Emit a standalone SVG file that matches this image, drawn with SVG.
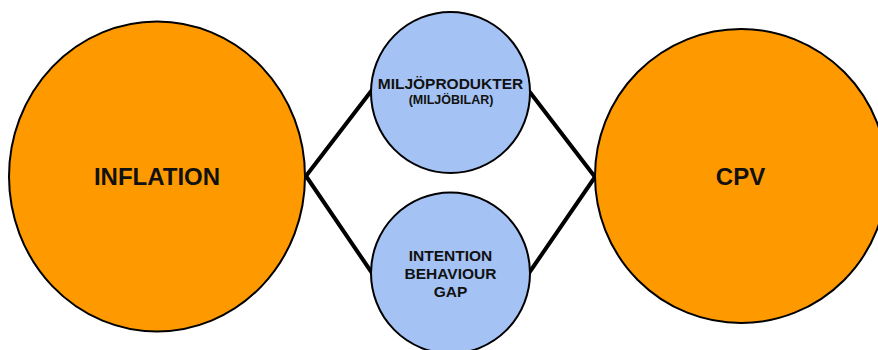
<svg xmlns="http://www.w3.org/2000/svg" width="878" height="350" viewBox="0 0 878 350">
<style>
.big{fill:#FF9900;stroke:#000;stroke-width:2}
.small{fill:#A4C2F4;stroke:#000;stroke-width:2}
.conn{stroke:#000;stroke-width:4;fill:none;stroke-linecap:round}
text{font-family:"Liberation Sans",Arial,sans-serif;font-weight:bold;fill:#111;text-anchor:middle}
.t1{font-size:24px}
.t2{font-size:15.5px}
.t3{font-size:12.5px}
</style>
<rect width="878" height="350" fill="#fff"/>
<g id="connectors">
<line class="conn" x1="306" y1="176" x2="372" y2="90"/>
<line class="conn" x1="306" y1="176" x2="372" y2="273"/>
<line class="conn" x1="529" y1="91" x2="595" y2="177"/>
<line class="conn" x1="529" y1="273" x2="595" y2="177"/>
</g>
<g id="inflation">
<ellipse class="big" cx="157" cy="176.5" rx="148" ry="155"/>
<text class="t1" x="157" y="185">INFLATION</text>
</g>
<g id="cpv">
<ellipse class="big" cx="741" cy="176" rx="146" ry="147"/>
<text class="t1" x="740.5" y="185">CPV</text>
</g>
<g id="miljoprodukter">
<ellipse class="small" cx="450.5" cy="92.5" rx="79.5" ry="80.5"/>
<text class="t2" x="450.5" y="89">MILJÖPRODUKTER</text>
<text class="t3" x="451" y="104">(MILJÖBILAR)</text>
</g>
<g id="gap">
<ellipse class="small" cx="450.5" cy="273" rx="79.5" ry="80.5"/>
<text class="t2" x="450.5" y="261">INTENTION</text>
<text class="t2" x="450.5" y="279">BEHAVIOUR</text>
<text class="t2" x="450.5" y="297">GAP</text>
</g>
</svg>
